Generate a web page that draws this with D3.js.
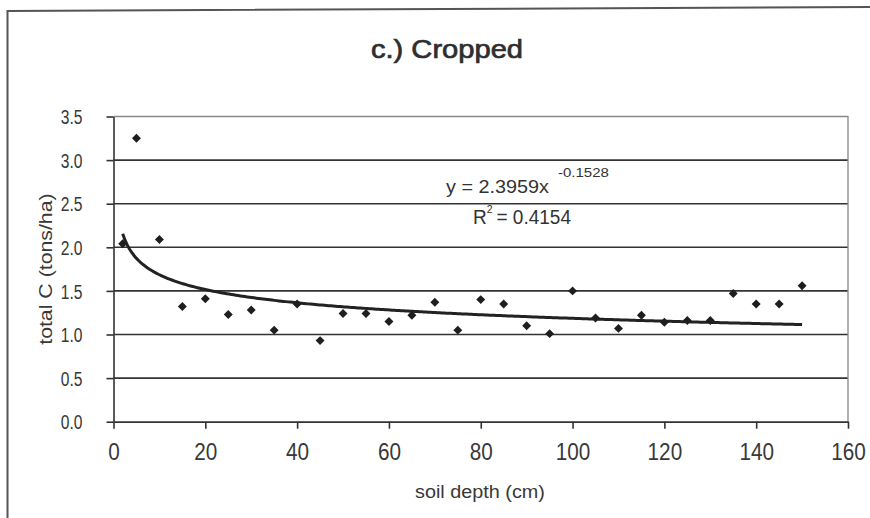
<!DOCTYPE html>
<html>
<head>
<meta charset="utf-8">
<script src="https://cdn.jsdelivr.net/npm/d3@7"></script>
<style>
  html, body { margin: 0; padding: 0; background: #fff; }
  svg { display: block; font-family: "Liberation Sans", Arial, sans-serif; }
</style>
</head>
<body>
<svg id="chart" width="870" height="518"></svg>
<script>
// Soil depth (cm) and total carbon (tons/ha) for the cropped site
const depths = [2, 5, 10, 15, 20, 25, 30, 35, 40, 45, 50, 55, 60, 65, 70, 75,
                80, 85, 90, 95, 100, 105, 110, 115, 120, 125, 130, 135, 140, 145, 150];
const carbon = [2.04, 3.25, 2.09, 1.32, 1.41, 1.23, 1.28, 1.05, 1.35, 0.93, 1.24, 1.24,
                1.15, 1.22, 1.37, 1.05, 1.40, 1.35, 1.10, 1.01, 1.50, 1.19, 1.07, 1.22,
                1.14, 1.16, 1.16, 1.47, 1.35, 1.35, 1.56];
const xTicks = [0, 20, 40, 60, 80, 100, 120, 140, 160];
const yTicks = [0, 0.5, 1.0, 1.5, 2.0, 2.5, 3.0, 3.5];

// Power trend fitted to the points: y = a * x^b
const fitA = 2.3959;
const fitB = -0.1528;
const fitR2 = 0.4154;

const svg = d3.select("#chart");
const plot = { left: 113.5, right: 848, top: 116.5, bottom: 421.7 };

const x = d3.scaleLinear().domain([0, 160]).range([plot.left, plot.right]);
const y = d3.scaleLinear().domain([0, 3.5]).range([plot.bottom, plot.top]);

// Squeeze or stretch text horizontally to the face used in the chart
function condense(sel, factor) {
  sel.each(function () {
    const len = this.getComputedTextLength();
    d3.select(this).attr("textLength", len * factor).attr("lengthAdjust", "spacingAndGlyphs");
  });
}

// Outer chart frame (left and top edges)
svg.append("path")
  .attr("d", "M7.5,518 L7.5,11 L870,7")
  .attr("fill", "none").attr("stroke", "#555").attr("stroke-width", 2);

// Title
svg.append("text")
  .attr("x", 447).attr("y", 57.5)
  .attr("text-anchor", "middle")
  .attr("font-size", 26)
  .attr("fill", "#2e2e2e").attr("stroke", "#2e2e2e").attr("stroke-width", 0.7)
  .text("c.) Cropped")
  .call(condense, 1.12);

// Horizontal gridlines
svg.append("g")
  .selectAll("line")
  .data(yTicks.filter(t => t > 0 && t < 3.5))
  .join("line")
  .attr("x1", plot.left).attr("x2", plot.right)
  .attr("y1", d => y(d)).attr("y2", d => y(d))
  .attr("stroke", "#333").attr("stroke-width", 1.6);

// Plot area border: top and right
svg.append("path")
  .attr("d", `M${plot.left},${y(3.5)} L${plot.right},${y(3.5)} L${plot.right},${plot.bottom}`)
  .attr("fill", "none").attr("stroke", "#888").attr("stroke-width", 1.3);

// Y axis
const yAxis = svg.append("g")
  .attr("transform", `translate(${plot.left},0)`)
  .call(d3.axisLeft(y).tickValues(yTicks).tickFormat(d3.format(".1f")).tickSize(7).tickSizeOuter(0).tickPadding(24));
yAxis.select(".domain").attr("stroke", "#333").attr("stroke-width", 1.6);
yAxis.selectAll(".tick line").attr("stroke", "#333").attr("stroke-width", 1.6);
yAxis.selectAll(".tick text")
  .attr("font-size", 20).attr("fill", "#383838")
  .attr("font-family", "Liberation Sans, Arial, sans-serif")
  .attr("dy", "0.36em")
  .call(condense, 0.78);

// X axis
const xAxis = svg.append("g")
  .attr("transform", `translate(0,${plot.bottom})`)
  .call(d3.axisBottom(x).tickValues(xTicks).tickFormat(d3.format("d")).tickSize(7).tickSizeOuter(0).tickPadding(15));
xAxis.select(".domain").attr("stroke", "#333").attr("stroke-width", 1.8);
xAxis.selectAll(".tick line").attr("stroke", "#333").attr("stroke-width", 1.6);
xAxis.selectAll(".tick text")
  .attr("font-size", 23).attr("fill", "#383838")
  .attr("font-family", "Liberation Sans, Arial, sans-serif")
  .attr("dy", "0.71em")
  .call(condense, 0.9);

// Axis titles
svg.append("text")
  .attr("transform", `translate(52,${(plot.top + plot.bottom) / 2}) rotate(-90)`)
  .attr("text-anchor", "middle")
  .attr("font-size", 19).attr("fill", "#383838")
  .text("total C (tons/ha)")
  .call(condense, 1.12);

svg.append("text")
  .attr("x", 480).attr("y", 498)
  .attr("text-anchor", "middle")
  .attr("font-size", 18).attr("fill", "#383838")
  .text("soil depth (cm)")
  .call(condense, 1.1);

// Power trend line over the sampled depth range
const xMin = d3.min(depths), xMax = d3.max(depths);
const trend = d3.range(0, 301).map(i => {
  const xv = xMin + (xMax - xMin) * i / 300;
  return [xv, fitA * Math.pow(xv, fitB)];
});
svg.append("path")
  .datum(trend)
  .attr("fill", "none")
  .attr("stroke", "#222").attr("stroke-width", 3)
  .attr("d", d3.line().x(d => x(d[0])).y(d => y(d[1])));

// Data points as diamonds
const points = depths.map((d, i) => ({ depth: d, c: carbon[i] }));
svg.append("g")
  .selectAll("path")
  .data(points)
  .join("path")
  .attr("transform", d => `translate(${x(d.depth)},${y(d.c)}) rotate(45)`)
  .attr("d", d3.symbol().type(d3.symbolSquare).size(40))
  .attr("fill", "#1e1e1e");

// Trend equation and R² label
const eq = svg.append("g").attr("fill", "#333");
eq.append("text")
  .attr("x", 446).attr("y", 192.5)
  .attr("font-size", 18)
  .text(`y = ${fitA.toFixed(4)}x`)
  .call(condense, 1.1);
eq.append("text")
  .attr("x", 558).attr("y", 177)
  .attr("font-size", 12)
  .text(fitB.toFixed(4))
  .call(condense, 1.25);

const r2Line = eq.append("text")
  .attr("x", 473).attr("y", 223.5)
  .attr("font-size", 20);
r2Line.append("tspan").text("R");
r2Line.append("tspan")
  .attr("font-size", 11).attr("dy", -11)
  .text("2");
r2Line.append("tspan")
  .attr("x", 496.5).attr("dy", 11)
  .text(`= ${fitR2.toFixed(4)}`);
condense(r2Line, 0.95);
</script>
</body>
</html>
